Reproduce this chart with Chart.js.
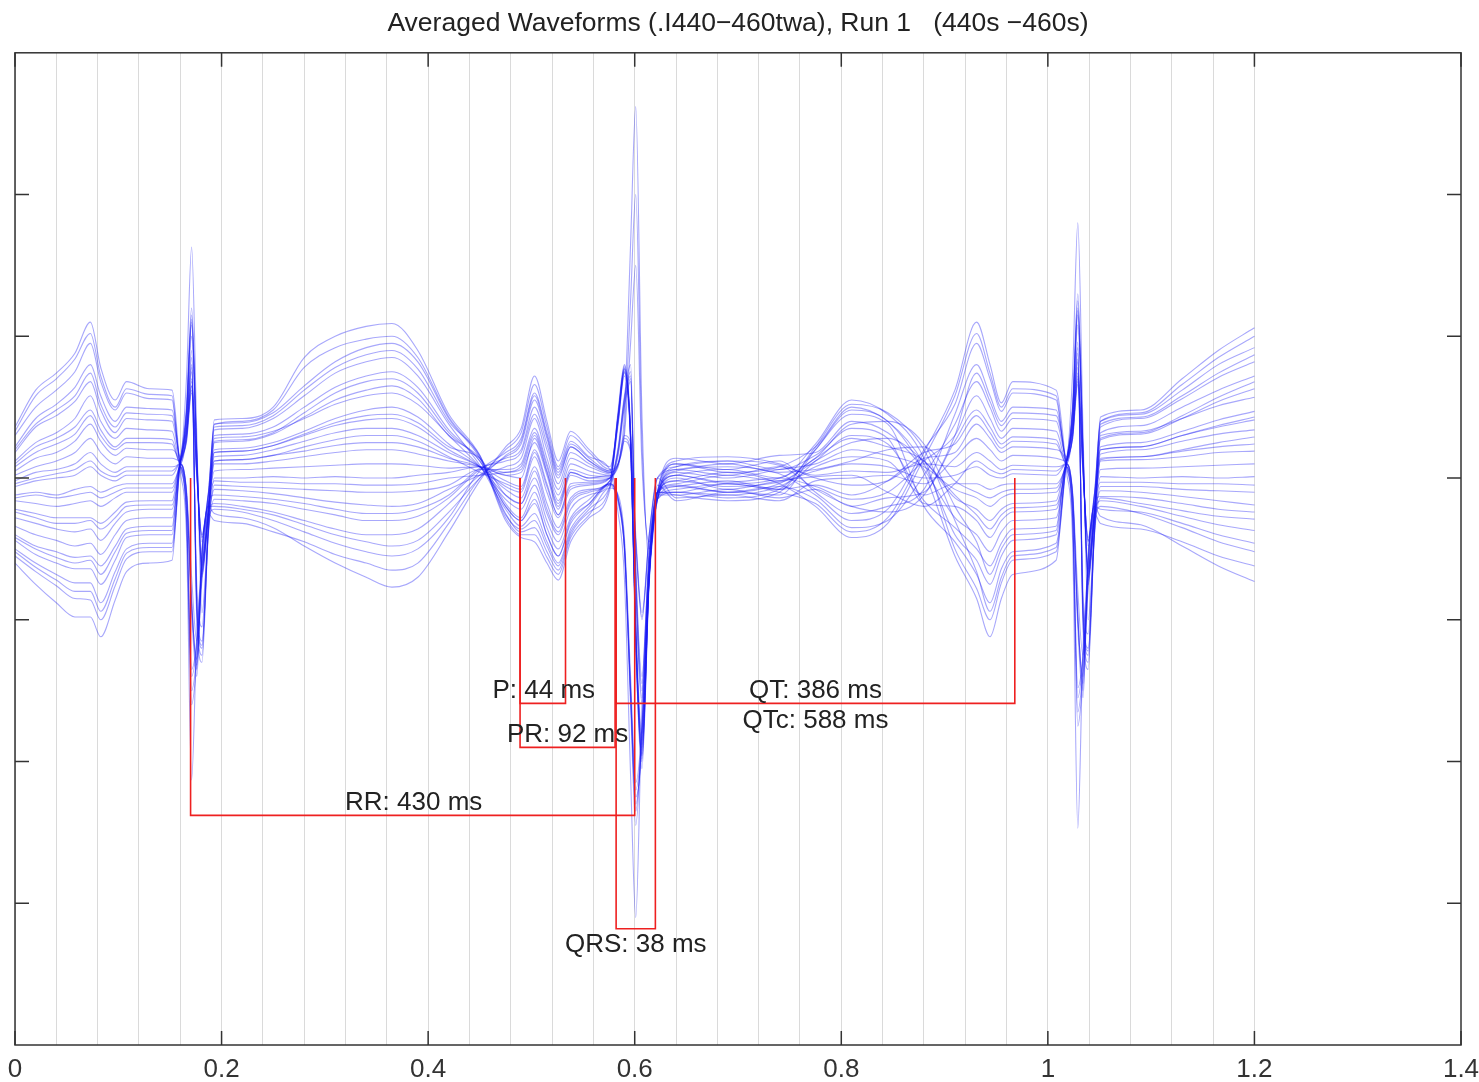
<!DOCTYPE html>
<html>
<head>
<meta charset="utf-8">
<title>Averaged Waveforms</title>
<script src="https://cdn.jsdelivr.net/npm/chart.js@4.4.1/dist/chart.umd.min.js"></script>
<style>
  html, body { margin: 0; padding: 0; background: #fff; }
  canvas { display: block; }
</style>
</head>
<body>
<canvas id="ecg" width="1479" height="1082"></canvas>
<script>
// sample times (s), shared by all averaged leads
const timeSec = [
  0, 0.02, 0.04, 0.058, 0.073, 0.083, 0.097, 0.108, 0.13, 0.152,
  0.160, 0.166, 0.171, 0.176, 0.181, 0.187, 0.193,
  0.22, 0.25, 0.28, 0.31, 0.34, 0.365, 0.39, 0.42, 0.45,
  0.475, 0.49, 0.503, 0.515, 0.526, 0.538, 0.556, 0.576,
  0.584, 0.590, 0.596, 0.601, 0.607, 0.614, 0.622,
  0.64, 0.69, 0.74,
  0.775, 0.81, 0.845, 0.88, 0.91, 0.931, 0.944, 0.955, 0.966, 1.008,
  1.018, 1.024, 1.029, 1.034, 1.039, 1.045, 1.051,
  1.09, 1.13, 1.165, 1.2
];

// one array per lead (amplitude, 1/100 of a y division)
const trace0 = [36, 62, 74, 88, 110, 78, 55, 68, 63, 62, 5, -40, -213, -110, -60, -25, -18,
  -20, -24, -30, -36, -40, -40, -36, -18, 2, 15, 24, 55, 28, 2, 22, 12, 5,
  45, 78, 30, -110, -190, -70, -15, -8, -4, -10,
  -18, -38, -28, 18, 62, 110, 80, 53, 68, 62, 5, -45, -247, -120, -65, -25, -16, -20, -27, -33, -37];
const trace1 = [30, 50, 62, 75, 95, 68, 48, 60, 56, 55, 12, 45, 110, 15, -65, -25, 10,
  10, 12, 15, 18, 20, 20, 17, 12, 8, 2, 0, 28, 4, -18, 4, 0, 2,
  -25, -70, -210, -310, -160, -60, -10, 5, 8, 3,
  -12, -30, -22, 20, 52, 95, 70, 47, 60, 55, 12, 48, 120, 18, -70, -25, 12, 13, 15, 18, 19];
const trace2 = [22, 42, 52, 64, 80, 58, 40, 50, 49, 48, 10, -10, -85, -135, -55, -20, -25,
  -28, -35, -48, -60, -70, -77, -70, -38, -2, 22, 35, 72, 40, 12, 33, 20, 8,
  40, 75, 25, -120, -200, -75, -15, 10, 6, 12,
  -10, -25, -20, -8, 45, 80, 58, 40, 50, 48, 10, -12, -95, -150, -60, -20, -27, -33, -48, -62, -73];
const trace3 = [18, 36, 44, 54, 68, 48, 32, 42, 41, 40, 15, 70, 163, 30, -95, -35, 28,
  29, 33, 42, 52, 58, 60, 52, 30, 8, -15, -22, -5, -30, -45, -22, -12, -4,
  20, 55, 75, -70, -150, -55, -10, -5, -10, -6,
  -15, -35, -30, 2, 38, 68, 50, 33, 42, 40, 15, 75, 180, 35, -100, -35, 30, 33, 42, 51, 57];
const trace4 = [12, 25, 32, 42, 58, 40, 28, 35, 34, 33, 12, 35, 80, -90, -120, -40, -5,
  -6, -7, -8, -9, -10, -10, -9, -5, 6, 6, 10, 35, 10, -12, 10, 5, 2,
  10, 45, 165, 262, 45, -60, -10, 2, -3, 0,
  -6, -15, -10, 12, 30, 58, 42, 28, 35, 33, 12, 38, 88, -95, -125, -40, -6, -6, -8, -9, -10];
const trace5 = [10, 22, 28, 36, 48, 34, 22, 28, 28, 27, 10, 30, 70, 5, -45, -15, 38,
  39, 46, 65, 82, 92, 95, 82, 42, 14, -25, -38, -35, -52, -65, -40, -24, -6,
  48, 80, 35, -100, -180, -65, -12, -12, -8, -14,
  -8, -20, -14, -10, 26, 48, 36, 24, 29, 27, 10, 32, 78, 8, -48, -15, 40, 45, 62, 80, 92];
const trace6 = [5, 14, 18, 26, 38, 26, 16, 21, 20, 20, 8, -25, -150, -125, -70, -30, -22,
  -24, -30, -38, -46, -52, -55, -50, -28, 5, 18, 28, 60, 32, 6, 26, 15, 6,
  -15, -45, -150, -230, -185, -70, -10, 12, 15, 10,
  0, -5, -2, 14, 18, 38, 28, 18, 22, 20, 8, -28, -165, -135, -75, -30, -20, -25, -35, -45, -52];
const trace7 = [2, 8, 12, 18, 28, 18, 10, 15, 14, 14, 12, 30, 65, -75, -105, -35, 15,
  16, 20, 26, 32, 35, 35, 30, 18, 8, -6, -10, 15, -10, -28, -8, -5, 0,
  10, 30, 25, -40, -95, -40, 0, -14, -12, -16,
  -2, 0, 2, -4, 14, 28, 20, 12, 16, 14, 12, 32, 70, -80, -110, -35, 17, 20, 26, 31, 34];
const trace8 = [-2, 4, 6, 10, 18, 10, 4, 8, 8, 8, 12, 50, 120, 20, -70, -25, 41,
  42, 50, 85, 100, 107, 109, 90, 45, 16, -30, -42, -45, -60, -72, -45, -28, -8,
  42, 76, 28, -115, -205, -72, -15, 6, 2, 8,
  2, 5, 4, 10, 8, 18, 12, 6, 9, 8, 12, 52, 130, 22, -75, -25, 43, 48, 70, 90, 106];
const trace9 = [-6, -2, 0, 2, 8, 2, -2, 2, 2, 2, 10, -8, -70, -115, -50, -18, -12,
  -13, -15, -18, -22, -25, -25, -22, -12, 7, 12, 18, 45, 20, -4, 18, 10, 4,
  10, 35, 125, 200, 25, -50, -10, -2, -6, -3,
  5, 10, 8, 0, 2, 8, 2, 0, 3, 2, 10, -10, -80, -125, -52, -18, -13, -14, -18, -22, -24];
const trace10 = [-12, -10, -12, -8, -6, -10, -6, -4, -4, -4, 10, 28, 65, 5, -40, -12, 30,
  31, 36, 50, 64, 72, 75, 64, 34, 12, -20, -30, -18, -40, -55, -32, -18, -4,
  -15, -50, -160, -245, -175, -65, -10, -10, -12, -6,
  8, 15, 12, -12, -4, -4, -8, -5, -4, -4, 10, 30, 72, 8, -44, -12, 32, 37, 50, 62, 72];
const trace11 = [-16, -18, -20, -18, -16, -20, -14, -10, -10, -10, 12, 35, 85, -95, -125, -40, 0,
  0, 1, 0, 1, 0, 0, 2, 4, 8, 4, 6, 30, 5, -20, 4, 0, 0,
  46, 79, 32, -105, -195, -68, -15, 4, 0, 6,
  10, 20, 16, 8, -8, -14, -20, -14, -11, -10, 12, 38, 92, -100, -130, -40, 1, 0, 1, 0, 1];
const trace12 = [-22, -25, -28, -28, -28, -32, -24, -17, -16, -16, 8, -22, -140, -118, -65, -28, 20,
  21, 25, 33, 42, 48, 50, 43, 24, 8, -12, -18, 0, -25, -40, -18, -10, -2,
  22, 58, 80, -60, -140, -50, -10, -4, 2, -2,
  14, 28, 22, 12, -14, -22, -30, -22, -18, -16, 8, -25, -155, -128, -70, -28, 22, 25, 33, 41, 47];
const trace13 = [-28, -32, -36, -38, -36, -44, -32, -24, -22, -22, 12, 40, 100, 10, -60, -25, -30,
  -32, -38, -45, -54, -60, -65, -60, -32, 0, 20, 32, 66, 36, 8, 30, 18, 6,
  10, 28, 20, -45, -100, -40, 0, 8, 12, 6,
  16, 35, 28, -18, -20, -30, -42, -30, -24, -22, 12, 42, 108, 12, -64, -25, -32, -36, -45, -55, -62];
const trace14 = [-34, -40, -44, -48, -46, -54, -40, -30, -28, -28, 12, 32, 75, -85, -115, -38, 34,
  35, 42, 58, 74, 82, 85, 72, 38, 9, -22, -34, -25, -45, -60, -36, -20, -5,
  -18, -50, -155, -225, -190, -72, -10, 14, 10, 16,
  18, 40, 32, 6, -28, -40, -52, -38, -30, -28, 12, 35, 82, -90, -120, -38, 36, 42, 56, 71, 82];
const trace15 = [-40, -48, -52, -56, -55, -62, -48, -36, -34, -34, 10, -12, -95, -140, -58, -22, 5,
  6, 7, 8, 9, 10, 10, 9, 7, 8, 2, 4, 25, 2, -22, 2, -2, 0,
  38, 74, 28, -118, -198, -70, -14, -6, -2, -8,
  12, 30, 24, -16, -35, -50, -62, -46, -36, -34, 10, -14, -105, -155, -62, -22, 6, 7, 8, 9, 10];
const trace16 = [-44, -54, -60, -64, -64, -75, -58, -42, -40, -40, 10, 25, 60, 0, -40, -12, 12,
  13, 16, 19, 23, 25, 25, 22, 14, 8, -2, -6, 20, -4, -26, -4, -3, 0,
  18, 52, 70, -75, -155, -58, -10, 10, 4, 8,
  22, 50, 40, 10, -40, -58, -75, -55, -44, -40, 10, 28, 66, 3, -42, -12, 14, 15, 19, 22, 24];
const trace17 = [-50, -60, -68, -74, -74, -88, -66, -50, -46, -46, 12, 38, 90, -100, -130, -42, -15,
  -16, -18, -22, -26, -30, -30, -27, -14, 6, 14, 20, 50, 24, 0, 22, 12, 4,
  10, 30, 95, 150, 10, -45, -5, -16, -10, -12,
  20, 45, 38, -20, -45, -68, -88, -64, -52, -46, 12, 40, 96, -105, -135, -42, -14, -18, -23, -27, -29];
const trace18 = [-55, -66, -76, -85, -86, -100, -76, -57, -52, -52, 12, 48, 115, 18, -68, -25, 38,
  40, 48, 78, 92, 98, 100, 85, 43, 15, -28, -40, -40, -56, -68, -42, -26, -7,
  -12, -42, -140, -215, -175, -68, -10, 2, 6, 0,
  24, 55, 45, 14, -50, -78, -100, -74, -58, -52, 12, 50, 125, 20, -72, -25, 40, 46, 66, 85, 100];
const trace19 = [-60, -75, -88, -98, -98, -112, -86, -66, -60, -58, 8, -28, -160, -130, -72, -30, 18,
  19, 23, 30, 37, 41, 42, 36, 20, 8, -8, -14, 8, -18, -35, -14, -8, -2,
  44, 77, 30, -112, -192, -70, -15, -10, -14, -8,
  20, 48, 40, 4, -55, -85, -112, -85, -68, -58, 8, -30, -175, -140, -78, -30, 20, 22, 30, 36, 41];
const trace20 = [33, 58, 70, 84, 102, 72, 50, 63, 59, 58, 12, 46, 112, 16, -66, -25, 26,
  27, 32, 46, 60, 68, 70, 60, 32, 12, -20, -30, -15, -40, -55, -30, -18, -4,
  -14, -48, -148, -220, -180, -68, -10, -2, 4, -4,
  -20, -42, -32, 14, 58, 102, 74, 50, 63, 58, 12, 48, 118, 18, -70, -25, 28, 32, 44, 57, 68];
const trace21 = [20, 38, 48, 58, 74, 52, 36, 46, 45, 44, 8, -22, -135, -115, -65, -28, -8,
  -9, -11, -14, -17, -19, -20, -18, -8, 2, 8, 14, 42, 14, -8, 14, 8, 3,
  40, 72, 26, -108, -185, -68, -14, 8, 12, 9,
  -8, -20, -24, -12, 30, 74, 54, 37, 46, 44, 8, -25, -148, -125, -70, -28, -9, -10, -13, -16, -19];
const trace22 = [8, 18, 24, 31, 44, 30, 20, 25, 25, 24, 10, 28, 68, 4, -42, -14, 18,
  19, 23, 31, 39, 44, 45, 39, 22, 14, -12, -18, 5, -22, -38, -16, -9, -2,
  20, 56, 72, -65, -145, -52, -10, -10, -4, -8,
  -5, -12, -2, 18, 24, 44, 32, 21, 26, 24, 10, 30, 74, 6, -45, -14, 20, 22, 30, 37, 43];
const trace23 = [-4, 0, 3, 6, 12, 5, 1, 5, 5, 5, 10, -12, -90, -128, -52, -20, -20,
  -22, -26, -33, -40, -45, -48, -44, -24, 0, 16, 26, 58, 30, 4, 24, 14, 5,
  44, 77, 30, -112, -188, -69, -14, 0, -8, -2,
  1, 2, -10, -20, -4, 12, 6, 3, 6, 5, 10, -14, -100, -140, -56, -20, -22, -24, -32, -40, -46];
const trace24 = [-14, -12, -14, -12, -10, -14, -10, -7, -7, -7, 12, 34, 78, -88, -118, -38, 12,
  13, 16, 22, 27, 30, 30, 26, 15, 4, -4, -8, 18, -6, -26, -6, -4, 0,
  8, 26, 18, -45, -98, -42, 0, 6, 10, 4,
  6, 12, 20, 22, -2, -10, -14, -10, -8, -7, 12, 36, 84, -92, -122, -38, 13, 15, 20, 25, 29];
const trace25 = [-24, -28, -32, -32, -30, -36, -28, -20, -19, -19, 12, 44, 108, 14, -62, -24, 25,
  26, 31, 43, 55, 62, 65, 56, 30, 14, -18, -28, -10, -35, -50, -28, -15, -4,
  -16, -48, -152, -235, -178, -66, -10, -6, -10, -4,
  12, 25, 28, 12, -12, -26, -36, -26, -21, -19, 12, 46, 115, 16, -66, -24, 27, 31, 42, 54, 63];
const trace26 = [-42, -50, -56, -60, -58, -68, -52, -39, -37, -37, 10, -10, -88, -132, -54, -20, -2,
  -3, -3, -4, -4, -5, -5, -4, 0, 2, 4, 8, 32, 8, -16, 6, 2, 1,
  42, 75, 28, -110, -196, -71, -15, 2, -4, 0,
  14, 38, 40, 24, -20, -45, -68, -50, -40, -37, 10, -12, -98, -145, -58, -20, -3, -3, -4, -4, -5];
const trace27 = [-52, -63, -72, -80, -80, -94, -71, -53, -49, -49, 10, 26, 62, 2, -42, -12, 36,
  37, 44, 62, 78, 87, 90, 77, 40, 16, -26, -36, -30, -48, -62, -38, -22, -6,
  16, 50, 68, -80, -158, -60, -10, -12, -16, -10,
  22, 52, 46, 20, -30, -66, -94, -70, -55, -49, 10, 28, 68, 4, -44, -12, 38, 43, 58, 74, 87];

const traces = [trace0, trace1, trace2, trace3, trace4, trace5, trace6, trace7, trace8, trace9,
  trace10, trace11, trace12, trace13, trace14, trace15, trace16, trace17, trace18, trace19,
  trace20, trace21, trace22, trace23, trace24, trace25, trace26, trace27];

// interval markers: start / end time (s) and bracket level
const bracketNames = ['P', 'PR', 'QRS', 'QT', 'RR'];
const bracketStart = [0.489, 0.489, 0.582, 0.582, 0.170];
const bracketEnd = [0.533, 0.581, 0.620, 0.968, 0.600];
const bracketDepth = [-159, -190, -318, -159, -238];

const measureText = ['P: 44 ms', 'PR: 92 ms', 'QRS: 38 ms', 'QT: 386 ms', 'QTc: 588 ms', 'RR: 430 ms'];

const xTickValues = [0, 0.2, 0.4, 0.6, 0.8, 1, 1.2, 1.4];
const xTickLabels = ['0', '0.2', '0.4', '0.6', '0.8', '1', '1.2', '1.4'];
const yTickValues = [-300, -200, -100, 0, 100, 200];

// where the measurement texts sit (x in s, y in amplitude units)
const textAnchor = [[0.512, -150], [0.535, -181], [0.601, -329], [0.775, -150], [0.775, -171], [0.386, -229]];

const datasets = [];
bracketNames.forEach((name, i) => {
  datasets.push({
    label: name,
    data: [
      { x: bracketStart[i], y: 0 },
      { x: bracketStart[i], y: bracketDepth[i] },
      { x: bracketEnd[i], y: bracketDepth[i] },
      { x: bracketEnd[i], y: 0 }
    ],
    borderColor: 'rgb(238, 32, 32)',
    borderWidth: 1.6,
    tension: 0,
    order: 0
  });
});
traces.forEach((tr, k) => {
  datasets.push({
    label: 'lead ' + (k + 1),
    data: timeSec.map((t, i) => ({ x: t, y: tr[i] })),
    borderColor: 'rgba(25, 25, 245, 0.38)',
    borderWidth: 1.1,
    cubicInterpolationMode: 'monotone',
    order: 1
  });
});

const frame = {
  id: 'frame',
  afterDatasetsDraw(chart) {
    const { ctx, chartArea: a, scales: { x, y } } = chart;
    ctx.save();
    ctx.fillStyle = '#222';
    ctx.font = '26px "Liberation Sans", Arial, sans-serif';
    ctx.textAlign = 'center';
    ctx.textBaseline = 'middle';
    measureText.forEach((s, i) => {
      ctx.fillText(s, x.getPixelForValue(textAnchor[i][0]), y.getPixelForValue(textAnchor[i][1]));
    });

    ctx.strokeStyle = '#333';
    ctx.lineWidth = 1.5;
    ctx.strokeRect(a.left, a.top, a.width, a.height);
    ctx.beginPath();
    xTickValues.forEach(v => {
      const px = x.getPixelForValue(v);
      ctx.moveTo(px, a.top); ctx.lineTo(px, a.top + 14);
      ctx.moveTo(px, a.bottom); ctx.lineTo(px, a.bottom - 14);
    });
    yTickValues.forEach(v => {
      const py = y.getPixelForValue(v);
      ctx.moveTo(a.left, py); ctx.lineTo(a.left + 14, py);
      ctx.moveTo(a.right, py); ctx.lineTo(a.right - 14, py);
    });
    ctx.stroke();
    ctx.restore();
  }
};

new Chart(document.getElementById('ecg'), {
  type: 'line',
  data: { datasets },
  options: {
    responsive: false,
    animation: false,
    devicePixelRatio: 1,
    layout: { padding: { left: 15, right: 18, top: 0, bottom: 0 } },
    elements: { point: { radius: 0 } },
    plugins: {
      legend: { display: false },
      tooltip: { enabled: false },
      title: {
        display: true,
        text: 'Averaged Waveforms (.I440\u2212460twa), Run 1   (440s \u2212460s)',
        color: '#222',
        font: { family: '"Liberation Sans", Arial, sans-serif', size: 26.5, weight: 'normal' },
        padding: { top: 8, bottom: 13 }
      }
    },
    scales: {
      x: {
        type: 'linear',
        min: 0,
        max: 1.4,
        afterFit(s) { s.height = 37; s.paddingLeft = 0; s.paddingRight = 0; },
        border: { display: false },
        grid: {
          drawTicks: false,
          lineWidth: 1,
          color: c => (c.tick && c.tick.value > 1.2001) ? 'rgba(0,0,0,0)' : '#dadada'
        },
        ticks: {
          stepSize: 0.04,
          autoSkip: false,
          maxRotation: 0,
          padding: 9,
          color: '#333',
          font: { family: '"Liberation Sans", Arial, sans-serif', size: 26 },
          callback: v => {
            const i = xTickValues.findIndex(t => Math.abs(t - v) < 1e-6);
            return i >= 0 ? xTickLabels[i] : '';
          }
        }
      },
      y: {
        min: -400,
        max: 300,
        display: false
      }
    }
  },
  plugins: [frame]
});
</script>
</body>
</html>
